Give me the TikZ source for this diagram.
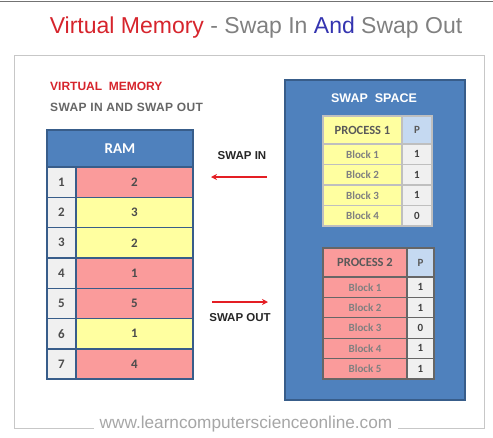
\documentclass[tikz,border=0pt]{standalone}
\usepackage{fontspec}
\setmainfont{Liberation Sans}
\newfontfamily\calib{Carlito}
\usepackage{tikz}
\usetikzlibrary{positioning,arrows.meta}

\definecolor{ttlred}{RGB}{214,36,44}
\definecolor{ttlblue}{RGB}{52,52,176}
\definecolor{ttlgray}{RGB}{128,128,128}
\definecolor{hdblue}{RGB}{79,129,189}
\definecolor{hdline}{RGB}{56,93,138}
\definecolor{pinkc}{RGB}{250,155,155}
\definecolor{yelc}{RGB}{255,255,160}
\definecolor{grayc}{RGB}{240,240,240}
\definecolor{pblue}{RGB}{197,217,241}
\definecolor{arrred}{RGB}{228,30,36}

\begin{document}
\begin{tikzpicture}[
  x=1pt, y=-1pt,
  cell/.style={rectangle, draw=hdline, line width=1.4pt, inner sep=0pt, font=\calib\bfseries\fontsize{13}{13}\selectfont, text=black!70},
  ramnum/.style={cell, fill=grayc, minimum width=29pt, minimum height=30.3pt},
  ramval/.style={cell, fill=#1, minimum width=117pt, minimum height=30.3pt},
  pcell/.style={rectangle, draw=#1, line width=1.3pt, inner sep=0pt, font=\calib\bfseries\fontsize{11}{11}\selectfont, text=black!50},
  pval/.style={pcell=#1, fill=grayc, text=black!75},
  lbl/.style={font=\bfseries\fontsize{11.5}{11.5}\selectfont, text=black!85, inner sep=0pt},
  swaparrow/.style={arrred, line width=1.3pt, -{Stealth[length=6pt,width=6pt]}}]

\useasboundingbox (0,0) rectangle (493,437);
\draw[black!55, line width=1pt] (0,1.5) -- (493,1.5);

% heading
\node[anchor=base, inner sep=0pt, font=\fontsize{23}{23}\selectfont] (title) at (256,33)
  {\textcolor{ttlred}{Virtual Memory}\textcolor{ttlgray}{\ - Swap In\ }\textcolor{ttlblue}{And}\textcolor{ttlgray}{\ Swap Out}};

% frame, broken round the footer
\node[inner sep=0pt, text=black!35, font=\fontsize{17.2}{17.2}\selectfont] (site) at (246,424) {www.learncomputerscienceonline.com};
\draw[black!22, line width=1pt] (site.west) ++(-6,4) -| (14,55) -| (484,428) -- ([xshift=6pt]site.east |- 0,428);

\node[anchor=base west, inner sep=0pt, text=ttlred, font=\bfseries\fontsize{12}{12}\selectfont] (vm) at (50,90) {VIRTUAL\ \ MEMORY};
\node[anchor=base west, inner sep=0pt, text=black!60, font=\bfseries\fontsize{12}{12}\selectfont\addfontfeature{LetterSpace=3}] (sio) at (50,111) {SWAP IN AND SWAP OUT};

% RAM
\node[cell, fill=hdblue, minimum width=146pt, minimum height=37pt, text=white, font=\calib\bfseries\fontsize{15}{15}\selectfont] (ram) at (120,148.5) {RAM};
\foreach \i/\v/\c in {1/2/pinkc, 2/3/yelc, 3/2/yelc, 4/1/pinkc, 5/5/pinkc, 6/1/yelc, 7/4/pinkc}{
  \node[ramnum] (ram-n\i) at (61.5,{167+(\i-0.5)*30.3}) {\i};
  \node[ramval=\c] (ram-v\i) at (134.5,{167+(\i-0.5)*30.3}) {\v};
}

% swap space
\node[rectangle, draw=hdline, line width=1.4pt, fill=hdblue, minimum width=180pt, minimum height=320pt] (swap) at (375,240) {};
\node[inner sep=0pt, text=white, font=\bfseries\fontsize{12.5}{12.5}\selectfont] (swaptitle) at (374,98) {SWAP\ \ SPACE};

% process 1
\node[pcell=black!25, fill=yelc, minimum width=79pt, minimum height=28pt, text=black!65, font=\calib\bfseries\fontsize{12.5}{12.5}\selectfont] (p1) at (362.5,130) {PROCESS 1};
\node[pcell=black!25, fill=pblue, minimum width=30pt, minimum height=28pt, text=black!65] (p1-p) at (417,130) {P};
\foreach \i/\v in {1/1, 2/1, 3/1, 4/0}{
  \node[pcell=black!25, fill=yelc, minimum width=79pt, minimum height=20.5pt] (p1-b\i) at (362.5,{144+(\i-0.5)*20.5}) {Block \i};
  \node[pval=black!25, minimum width=30pt, minimum height=20.5pt] (p1-v\i) at (417,{144+(\i-0.5)*20.5}) {\v};
}

% process 2
\node[pcell=black!60, fill=pinkc, minimum width=84pt, minimum height=29pt, text=black!65, font=\calib\bfseries\fontsize{12.5}{12.5}\selectfont] (p2) at (365,262.5) {PROCESS 2};
\node[pcell=black!60, fill=pblue, minimum width=27pt, minimum height=29pt, text=black!65] (p2-p) at (420.5,262.5) {P};
\foreach \i/\v in {1/1, 2/1, 3/0, 4/1, 5/1}{
  \node[pcell=black!60, fill=pinkc, minimum width=84pt, minimum height=20.4pt] (p2-b\i) at (365,{277+(\i-0.5)*20.4}) {Block \i};
  \node[pval=black!60, minimum width=27pt, minimum height=20.4pt] (p2-v\i) at (420.5,{277+(\i-0.5)*20.4}) {\v};
}

% swap in / swap out
\node[lbl] (inlbl) at (242,156) {SWAP IN};
\coordinate (in-a) at (267,177);
\coordinate (in-b) at (211,177);
\draw[swaparrow] (in-a) -- (in-b);
\coordinate (out-a) at (212,302);
\coordinate (out-b) at (268,302);
\draw[swaparrow] (out-a) -- (out-b);
\node[lbl] (outlbl) at (240,318) {SWAP OUT};
\end{tikzpicture}
\end{document}
